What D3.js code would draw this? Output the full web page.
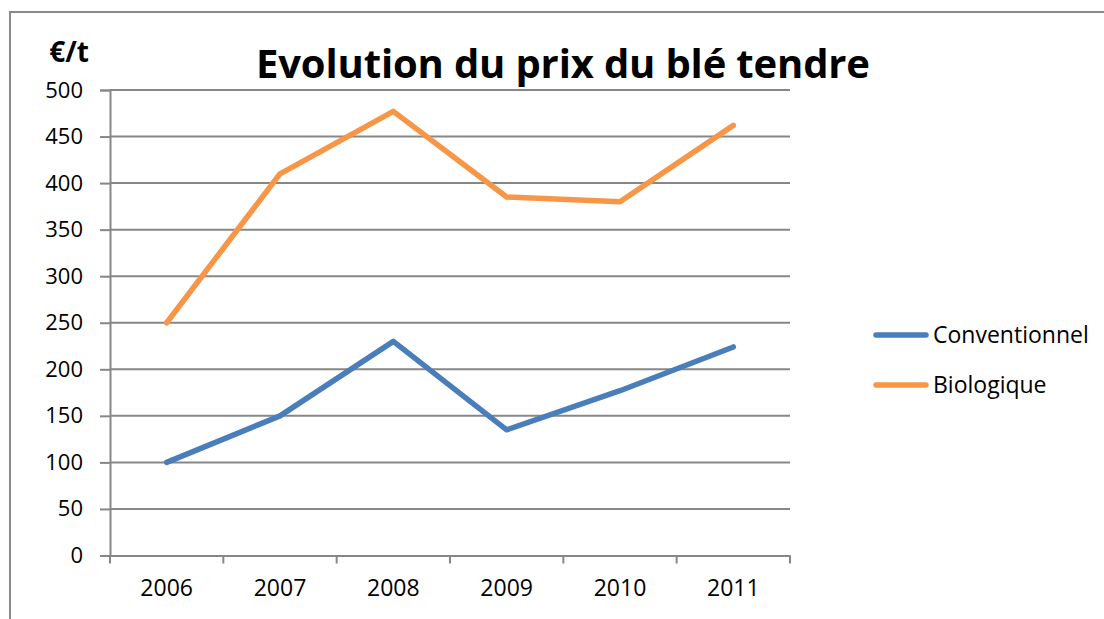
<!DOCTYPE html>
<html>
<head>
<meta charset="utf-8">
<script src="https://cdn.jsdelivr.net/npm/d3@7"></script>
<style>
  body { margin: 0; background: #fff; }
  svg { display: block; font-family: "Open Sans", sans-serif; }
</style>
</head>
<body>
<svg id="chart" width="1104" height="619"></svg>
<script>
var years = ['2006', '2007', '2008', '2009', '2010', '2011']
var conventionnel = [100, 150, 230, 135, 177, 224]
var biologique = [250, 410, 477, 385, 380, 462]
var seriesNames = ['Conventionnel', 'Biologique']
var seriesColors = ['#4a7ebb', '#f79646']
var yTicks = [0, 50, 100, 150, 200, 250, 300, 350, 400, 450, 500]

var svg = d3.select('#chart')

// plot area edges (don't call it "top", that's window.top)
var plotLeft = 110, plotRight = 790, plotTop = 90, plotBottom = 555.5

// chart frame
svg.append('rect')
    .attr('x', 10).attr('y', 12)
    .attr('width', 1200).attr('height', 700)
    .attr('fill', 'none')
    .attr('stroke', '#8a8a8a')
    .attr('stroke-width', 2)

var x = d3.scaleBand().domain(years).range([plotLeft, plotRight])
var y = d3.scaleLinear().domain([0, 500]).range([plotBottom, plotTop])

// horizontal grid lines
svg.append('g')
    .selectAll('line')
    .data(yTicks.slice(1))
    .join('line')
    .attr('x1', plotLeft).attr('x2', plotRight)
    .attr('y1', d => y(d)).attr('y2', d => y(d))
    .attr('stroke', '#878787')
    .attr('stroke-width', 2)

// y axis
var yAxis = svg.append('g')
    .attr('transform', 'translate(' + plotLeft + ',0)')
    .call(d3.axisLeft(y).tickValues(yTicks).tickSize(10).tickPadding(17))
yAxis.select('.domain').attr('stroke', '#878787').attr('stroke-width', 2)
yAxis.selectAll('.tick line').attr('stroke', '#878787').attr('stroke-width', 2)
yAxis.selectAll('.tick text')
    .attr('font-family', 'Open Sans')
    .attr('font-size', 22)
    .attr('fill', '#000')

// x axis
var xAxis = svg.append('g')
    .attr('transform', 'translate(0,' + plotBottom + ')')
    .call(d3.axisBottom(x).tickSize(0).tickPadding(24))
xAxis.select('.domain').attr('stroke', '#878787').attr('stroke-width', 2)
xAxis.selectAll('.tick text')
    .attr('font-family', 'Open Sans')
    .attr('font-size', 23)
    .attr('fill', '#000')

// category boundary ticks
var bounds = years.map(d => x(d)).concat([plotRight])
svg.append('g')
    .selectAll('line')
    .data(bounds)
    .join('line')
    .attr('x1', d => d).attr('x2', d => d)
    .attr('y1', plotBottom).attr('y2', plotBottom + 8)
    .attr('stroke', '#878787')
    .attr('stroke-width', 2)

// lines
var line = d3.line()
    .x((d, i) => x(years[i]) + x.bandwidth() / 2)
    .y(d => y(d))

var allSeries = [conventionnel, biologique]
svg.append('g')
    .selectAll('path')
    .data(allSeries)
    .join('path')
    .attr('d', d => line(d))
    .attr('fill', 'none')
    .attr('stroke', (d, i) => seriesColors[i])
    .attr('stroke-width', 5.5)
    .attr('stroke-linejoin', 'round')
    .attr('stroke-linecap', 'round')

// title
svg.append('text')
    .attr('x', 563).attr('y', 78)
    .attr('text-anchor', 'middle')
    .attr('font-family', 'Open Sans')
    .attr('font-weight', 'bold')
    .attr('font-size', 40)
    .attr('textLength', 614)
    .text('Evolution du prix du blé tendre')

// unit label
svg.append('text')
    .attr('x', 69).attr('y', 62)
    .attr('text-anchor', 'middle')
    .attr('font-family', 'Open Sans')
    .attr('font-weight', 'bold')
    .attr('font-size', 28)
    .text('€/t')

// legend
var legend = svg.append('g')
legend.selectAll('line')
    .data(seriesNames)
    .join('line')
    .attr('x1', 876).attr('x2', 926)
    .attr('y1', (d, i) => 335 + i * 50)
    .attr('y2', (d, i) => 335 + i * 50)
    .attr('stroke', (d, i) => seriesColors[i])
    .attr('stroke-width', 5.5)
    .attr('stroke-linecap', 'round')

legend.selectAll('text')
    .data(seriesNames)
    .join('text')
    .attr('x', 933)
    .attr('y', (d, i) => 335 + i * 50)
    .attr('dy', '0.35em')
    .attr('font-family', 'Open Sans')
    .attr('font-size', 23)
    .text(d => d)
</script>
</body>
</html>
